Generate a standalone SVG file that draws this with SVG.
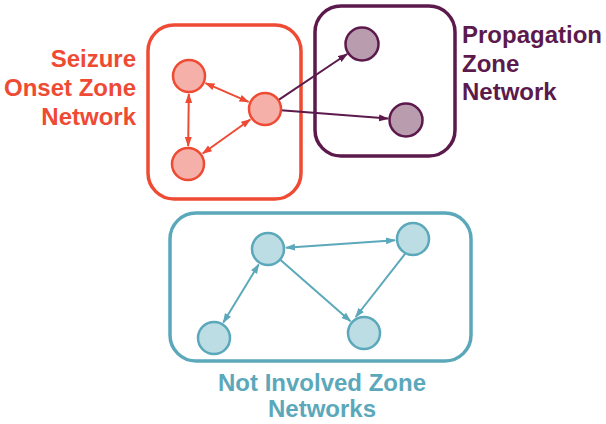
<svg xmlns="http://www.w3.org/2000/svg" width="606" height="424" viewBox="0 0 606 424">
<style>
text{font-family:"Liberation Sans",Arial,sans-serif;font-weight:bold;font-size:24px}
.box{fill:none;stroke-width:3.5}
.n{stroke-width:2.5}
.e{fill:none;stroke-width:2}
.red{stroke:#ef4a33}
.pur{stroke:#5c1a4c}
.teal{stroke:#5ba8bb}
</style>
<defs>
<marker id="mr" markerUnits="userSpaceOnUse" markerWidth="10" markerHeight="8" refX="9" refY="4" orient="auto-start-reverse"><path d="M0,0.5 L10,4 L0,7.5 z" fill="#ef4a33"/></marker>
<marker id="mp" markerUnits="userSpaceOnUse" markerWidth="10" markerHeight="8" refX="9" refY="4" orient="auto-start-reverse"><path d="M0,0.5 L10,4 L0,7.5 z" fill="#5c1a4c"/></marker>
<marker id="mt" markerUnits="userSpaceOnUse" markerWidth="10" markerHeight="8" refX="9" refY="4" orient="auto-start-reverse"><path d="M0,0.5 L10,4 L0,7.5 z" fill="#5ba8bb"/></marker>
</defs>
<g id="seizure-onset-zone">
<rect class="box red" x="148" y="25" width="153" height="174" rx="26"/>
<text x="136" y="67" text-anchor="end" fill="#ef4a33">Seizure</text>
<text x="136" y="96" text-anchor="end" fill="#ef4a33">Onset Zone</text>
<text x="136" y="125" text-anchor="end" fill="#ef4a33">Network</text>
</g>
<g id="propagation-zone">
<rect class="box pur" x="315" y="6" width="140" height="150" rx="26"/>
<text x="462" y="43" fill="#5c1a4c">Propagation</text>
<text x="462" y="72" fill="#5c1a4c">Zone</text>
<text x="462" y="100" fill="#5c1a4c">Network</text>
</g>
<g id="not-involved-zone">
<rect class="box teal" x="170" y="213" width="301" height="148" rx="26"/>
<text x="322" y="391" text-anchor="middle" fill="#5ba8bb">Not Involved Zone</text>
<text x="322" y="417" text-anchor="middle" fill="#5ba8bb">Networks</text>
</g>
<g id="connectors">
<line class="e red" x1="205.5" y1="83.2" x2="248.5" y2="101.8" marker-start="url(#mr)" marker-end="url(#mr)"/>
<line class="e red" x1="188.8" y1="94" x2="188.2" y2="146" marker-start="url(#mr)" marker-end="url(#mr)"/>
<line class="e red" x1="202.7" y1="153.5" x2="250.3" y2="119.5" marker-start="url(#mr)" marker-end="url(#mr)"/>
<line class="e pur" x1="278.3" y1="100.1" x2="347.1" y2="54" marker-end="url(#mp)"/>
<line class="e pur" x1="281" y1="110.2" x2="388" y2="118.6" marker-end="url(#mp)"/>
<line class="e teal" x1="286" y1="247.8" x2="395" y2="240.2" marker-start="url(#mt)" marker-end="url(#mt)"/>
<line class="e teal" x1="258.7" y1="264.4" x2="223.3" y2="322.6" marker-start="url(#mt)" marker-end="url(#mt)"/>
<line class="e teal" x1="280" y1="259.5" x2="350.5" y2="321.2" marker-end="url(#mt)"/>
<line class="e teal" x1="405.6" y1="253.2" x2="355.7" y2="317" marker-end="url(#mt)"/>
</g>
<g id="soz-node-1"><circle class="n red" cx="189" cy="76" r="16" fill="#f5b1a9"/></g>
<g id="soz-node-2"><circle class="n red" cx="265" cy="109" r="16" fill="#f5b1a9"/></g>
<g id="soz-node-3"><circle class="n red" cx="188" cy="164" r="16" fill="#f5b1a9"/></g>
<g id="pz-node-1"><circle class="n pur" cx="362" cy="44" r="16.5" fill="#b99cae"/></g>
<g id="pz-node-2"><circle class="n pur" cx="406" cy="120" r="16.5" fill="#b99cae"/></g>
<g id="nz-node-1"><circle class="n teal" cx="268" cy="249" r="16" fill="#bcdde4"/></g>
<g id="nz-node-2"><circle class="n teal" cx="413" cy="239" r="16" fill="#bcdde4"/></g>
<g id="nz-node-3"><circle class="n teal" cx="214" cy="338" r="16" fill="#bcdde4"/></g>
<g id="nz-node-4"><circle class="n teal" cx="364" cy="333" r="16" fill="#bcdde4"/></g>
</svg>
